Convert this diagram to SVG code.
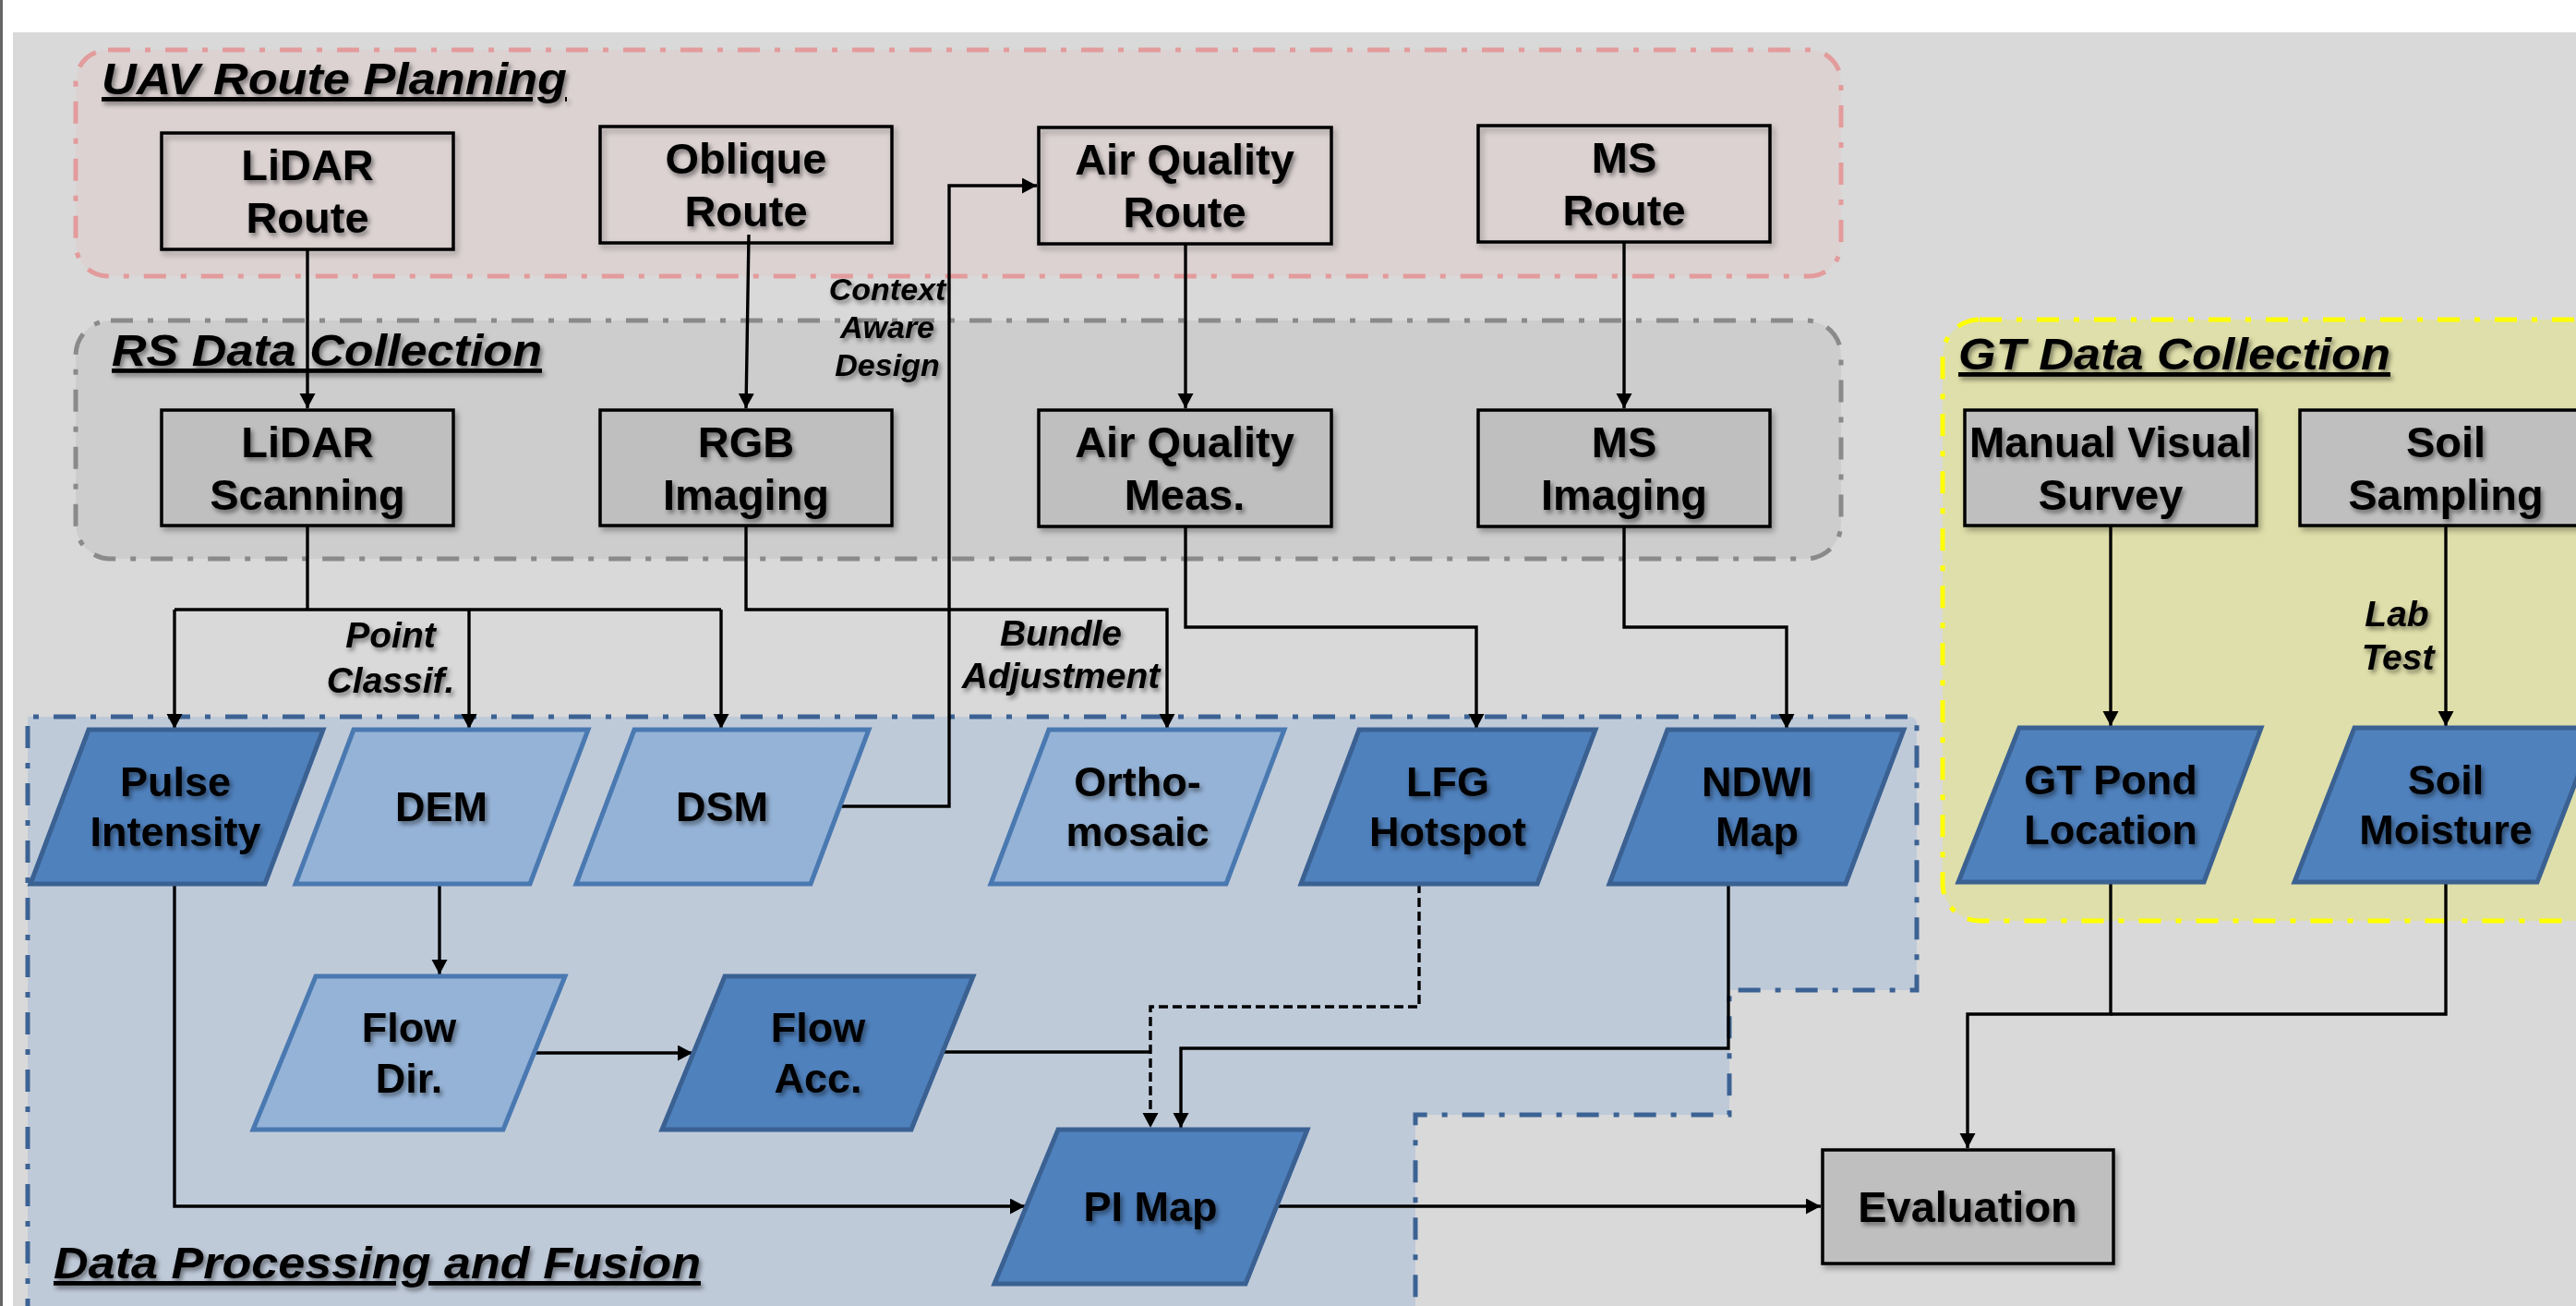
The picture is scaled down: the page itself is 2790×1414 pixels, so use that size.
<svg xmlns="http://www.w3.org/2000/svg" width="2790" height="1414" viewBox="0 0 2790 1414">
<defs>
<filter id="ts" x="-10%" y="-20%" width="125%" height="150%">
<feDropShadow dx="2.5" dy="3.5" stdDeviation="2.5" flood-color="#000" flood-opacity="0.45"/>
</filter>
<filter id="bs" x="-5%" y="-5%" width="115%" height="120%">
<feDropShadow dx="3" dy="4" stdDeviation="3" flood-color="#000" flood-opacity="0.3"/>
</filter>
<marker id="ah" markerUnits="userSpaceOnUse" markerWidth="18" markerHeight="18" refX="16" refY="8.5" orient="auto">
<path d="M0,0 L16,8.5 L0,17 z" fill="#000"/>
</marker>
<style>
.t{font-family:"Liberation Sans",Arial,sans-serif;font-weight:bold;font-size:47px;text-anchor:middle;fill:#000;filter:url(#ts)}
.p{font-size:45px}
.lbl{font-style:italic;font-size:39px}
.ctx{font-style:italic;font-size:34px}
.title{font-family:"Liberation Sans",Arial,sans-serif;font-weight:bold;font-style:italic;font-size:48px;fill:#000;text-decoration:underline;filter:url(#ts)}
.route{fill:none;stroke:#000;stroke-width:3.5;filter:url(#bs)}
.gbox{fill:#bfbfbf;stroke:#000;stroke-width:3.5;filter:url(#bs)}
.dark{fill:#4f81bd;stroke:#3a6192;stroke-width:5;stroke-linejoin:miter}
.light{fill:#95b3d7;stroke:#4a79b1;stroke-width:5}
.c{fill:none;stroke:#000;stroke-width:3.4}
.ca{fill:none;stroke:#000;stroke-width:3.4;marker-end:url(#ah)}
.dash{stroke-dasharray:10 5}
.grp{stroke-width:5;stroke-dasharray:24 16 6 16}
</style>
</defs>

<!-- background -->
<rect x="0" y="0" width="2790" height="1414" fill="#ffffff"/>
<line x1="1.5" y1="0" x2="1.5" y2="1414" stroke="#666" stroke-width="3"/>
<rect x="14" y="35" width="2776" height="1379" fill="#d9d9d9"/>

<!-- groups -->
<g id="group-uav">
<rect x="82" y="54" width="1912" height="245" rx="35" fill="#dcd2d2" stroke="#e39b9b" class="grp"/>
<text class="title" x="110" y="102" textLength="504" lengthAdjust="spacingAndGlyphs">UAV Route Planning</text>
</g>
<g id="group-rs">
<rect x="82" y="347" width="1912" height="258" rx="38" fill="#cdcdcd" stroke="#8a8a8a" class="grp"/>
<text class="title" x="121" y="396" textLength="466" lengthAdjust="spacingAndGlyphs">RS Data Collection</text>
</g>
<g id="group-gt">
<rect x="2104" y="346" width="760" height="651" rx="40" fill="#dfdfab" stroke="#ffff00" class="grp"/>
<text class="title" x="2121" y="400" textLength="468" lengthAdjust="spacingAndGlyphs">GT Data Collection</text>
</g>
<g id="group-dpf">
<path d="M30,1430 V776 H2068 Q2076,776 2076,784 V1072 H1873 V1207 H1533 V1430" fill="#bfcad9" stroke="#3b6293" class="grp"/>
<text class="title" x="58" y="1384" textLength="701" lengthAdjust="spacingAndGlyphs">Data Processing and Fusion</text>
</g>

<!-- connectors -->
<g id="connectors">
<path class="ca" d="M333,270 V442"/>
<path class="ca" d="M811,254 L808,442"/>
<path class="ca" d="M1284,264 V442"/>
<path class="ca" d="M1759,262 V442"/>
<path class="c" d="M333,569 V660"/>
<path class="c" d="M189,660 H781"/>
<path class="ca" d="M189,660 V789"/>
<path class="ca" d="M508,660 V789"/>
<path class="ca" d="M781,660 V789"/>
<path class="ca" d="M909,873 H1028 V201 H1123"/>
<path class="ca" d="M808,569 V660 H1264 V789"/>
<path class="ca" d="M1284,570 V679 H1599 V789"/>
<path class="ca" d="M1759,570 V679 H1935 V789"/>
<path class="ca" d="M476,957 V1055"/>
<path class="ca" d="M577,1140 H750"/>
<path class="c" d="M1019,1139 H1246"/>
<path class="ca dash" d="M1537,957 V1090 H1246 V1221"/>
<path class="ca" d="M1872,957 V1135 H1279 V1221"/>
<path class="ca" d="M189,957 V1306 H1110"/>
<path class="ca" d="M1381,1306 H1972"/>
<path class="ca" d="M2286,569 V786"/>
<path class="ca" d="M2649,569 V786"/>
<path class="ca" d="M2286,955 V1098 H2131 V1243"/>
<path class="c" d="M2649,955 V1098 H2286"/>
<text class="t ctx" x="961" y="325">Context</text>
<text class="t ctx" x="961" y="366">Aware</text>
<text class="t ctx" x="961" y="407">Design</text>
<text class="t lbl" x="423" y="701">Point</text>
<text class="t lbl" x="423" y="750">Classif.</text>
<text class="t lbl" x="1149" y="699">Bundle</text>
<text class="t lbl" x="1149" y="745">Adjustment</text>
<text class="t lbl" x="2596" y="678">Lab</text>
<text class="t lbl" x="2597" y="725">Test</text>
</g>

<!-- route boxes -->
<g id="lidar-route"><rect class="route" x="175" y="144" width="316" height="126"/><text class="t" x="333" y="195">LiDAR</text><text class="t" x="333" y="252">Route</text></g>
<g id="oblique-route"><rect class="route" x="650" y="137" width="316" height="126"/><text class="t" x="808" y="188">Oblique</text><text class="t" x="808" y="245">Route</text></g>
<g id="airquality-route"><rect class="route" x="1125" y="138" width="317" height="126"/><text class="t" x="1283" y="189">Air Quality</text><text class="t" x="1283" y="246">Route</text></g>
<g id="ms-route"><rect class="route" x="1601" y="136" width="316" height="126"/><text class="t" x="1759" y="187">MS</text><text class="t" x="1759" y="244">Route</text></g>

<!-- data collection boxes -->
<g id="lidar-scanning"><rect class="gbox" x="175" y="444" width="316" height="125"/><text class="t" x="333" y="495">LiDAR</text><text class="t" x="333" y="552">Scanning</text></g>
<g id="rgb-imaging"><rect class="gbox" x="650" y="444" width="316" height="125"/><text class="t" x="808" y="495">RGB</text><text class="t" x="808" y="552">Imaging</text></g>
<g id="airquality-meas"><rect class="gbox" x="1125" y="444" width="317" height="126"/><text class="t" x="1283" y="495">Air Quality</text><text class="t" x="1283" y="552">Meas.</text></g>
<g id="ms-imaging"><rect class="gbox" x="1601" y="444" width="316" height="126"/><text class="t" x="1759" y="495">MS</text><text class="t" x="1759" y="552">Imaging</text></g>
<g id="manual-visual-survey"><rect class="gbox" x="2128" y="444" width="316" height="125"/><text class="t" x="2286" y="495" textLength="306" lengthAdjust="spacingAndGlyphs">Manual Visual</text><text class="t" x="2286" y="552">Survey</text></g>
<g id="soil-sampling"><rect class="gbox" x="2491" y="444" width="316" height="125"/><text class="t" x="2649" y="495">Soil</text><text class="t" x="2649" y="552">Sampling</text></g>

<!-- data products -->
<g id="pulse-intensity"><polygon class="dark" points="96,790 350,790 287,957 33,957"/><text class="t p" x="190" y="862">Pulse</text><text class="t p" x="190" y="916">Intensity</text></g>
<g id="dem"><polygon class="light" points="383,790 637,790 574,957 320,957"/><text class="t p" x="478" y="889">DEM</text></g>
<g id="dsm"><polygon class="light" points="687,790 941,790 878,957 624,957"/><text class="t p" x="782" y="889">DSM</text></g>
<g id="orthomosaic"><polygon class="light" points="1136,790 1391,790 1328,957 1073,957"/><text class="t p" x="1232" y="862">Ortho-</text><text class="t p" x="1232" y="916">mosaic</text></g>
<g id="lfg-hotspot"><polygon class="dark" points="1472,790 1728,790 1665,957 1409,957"/><text class="t p" x="1568" y="862">LFG</text><text class="t p" x="1568" y="916">Hotspot</text></g>
<g id="ndwi-map"><polygon class="dark" points="1806,790 2062,790 1999,957 1743,957"/><text class="t p" x="1903" y="862">NDWI</text><text class="t p" x="1903" y="916">Map</text></g>
<g id="gt-pond-location"><polygon class="dark" points="2187,788 2449,788 2387,955 2121,955"/><text class="t p" x="2286" y="860">GT Pond</text><text class="t p" x="2286" y="914">Location</text></g>
<g id="soil-moisture"><polygon class="dark" points="2550,788 2812,788 2748,955 2485,955"/><text class="t p" x="2649" y="860">Soil</text><text class="t p" x="2649" y="914">Moisture</text></g>
<g id="flow-dir"><polygon class="light" points="342,1057 612,1057 545,1223 274,1223"/><text class="t p" x="443" y="1128">Flow</text><text class="t p" x="443" y="1183">Dir.</text></g>
<g id="flow-acc"><polygon class="dark" points="785,1057 1054,1057 987,1223 717,1223"/><text class="t p" x="886" y="1128">Flow</text><text class="t p" x="886" y="1183">Acc.</text></g>
<g id="pi-map"><polygon class="dark" points="1146,1223 1416,1223 1349,1390 1077,1390"/><text class="t p" x="1246" y="1322">PI Map</text></g>
<g id="evaluation"><rect class="gbox" x="1974" y="1245" width="315" height="123"/><text class="t" x="2131" y="1323">Evaluation</text></g>
</svg>
